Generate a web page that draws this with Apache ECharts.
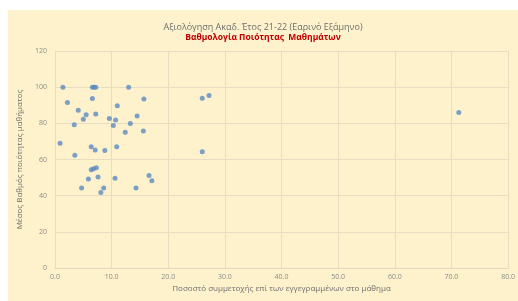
<!DOCTYPE html>
<html>
<head>
<meta charset="utf-8">
<script src="https://cdn.jsdelivr.net/npm/echarts@6/dist/echarts.min.js"></script>
<style>
  html, body { margin: 0; padding: 0; background: #ffffff; }
  #main { position: absolute; left: 8px; top: 10px; width: 510px; height: 291px; }
</style>
</head>
<body>
<div id="main"></div>
<script>
// participation % (x) and mean quality grade (y)
var participation = [
  1.4, 6.6, 6.9, 7.2, 13.0, 2.2, 6.6, 11.0, 15.7, 4.1,
  5.5, 5.0, 7.2, 9.6, 10.7, 14.5, 10.3, 13.3, 12.4, 15.6,
  3.4, 0.9, 6.4, 7.1, 8.8, 10.9, 3.5, 6.4, 6.8, 7.3,
  5.9, 7.6, 10.6, 16.6, 17.1, 4.7, 8.6, 8.1, 14.3,
  26.0, 27.2, 71.3, 26.0
];
var grade = [
  100, 100, 100, 100, 100, 91.5, 93.7, 89.7, 93.5, 87.3,
  84.7, 82.3, 85.2, 82.7, 81.8, 84, 78.8, 79.9, 75.1, 75.7,
  79.2, 69, 67, 65.2, 65, 67, 62.4, 54.3, 54.9, 55.4,
  49.2, 50.3, 49.7, 51.2, 48.2, 44.2, 44.2, 41.8, 44.2,
  93.9, 95.4, 86, 64.3
];

var titleMain = 'Αξιολόγηση Ακαδ. Έτος 21-22 (Εαρινό Εξάμηνο)';
var titleSub = 'Βαθμολογία Ποιότητας  Μαθημάτων';
var xName = 'Ποσοστό συμμετοχής επί των εγγεγραμμένων στο μάθημα';
var yName = 'Μέσος Βαθμός ποιότητας μαθήματος';

var chartDom = document.getElementById('main');
var myChart = echarts.init(chartDom);
var option;

var points = participation.map(function (x, i) {
  return [x, grade[i]];
});

var fontFam = '"Open Sans", "Liberation Sans", sans-serif';

option = {
  backgroundColor: '#FEF2CD',
  animation: false,
  title: {
    text: titleMain,
    subtext: titleSub,
    left: 'center',
    top: 8,
    itemGap: 1,
    textStyle: { fontFamily: fontFam, fontSize: 9, fontWeight: 'normal', color: '#6d6d6d' },
    subtextStyle: { fontFamily: fontFam, fontSize: 8.5, fontWeight: 'bold', color: '#C00000' }
  },
  grid: { left: 47, right: 5, top: 41, bottom: 33 },
  xAxis: {
    type: 'value',
    min: 0,
    max: 80,
    interval: 10,
    name: xName,
    nameLocation: 'middle',
    nameGap: 14,
    nameTextStyle: { fontFamily: fontFam, fontSize: 8, color: '#6d6d6d' },
    axisLine: { show: true, lineStyle: { color: '#E3D8BC' } },
    axisTick: { show: false },
    axisLabel: {
      fontFamily: fontFam, fontSize: 7, color: '#8a8a8a', margin: 5,
      formatter: function (v) { return v.toFixed(1); }
    },
    splitLine: { show: true, lineStyle: { color: '#E8DDC0', width: 1 } }
  },
  yAxis: {
    type: 'value',
    min: 0,
    max: 120,
    interval: 20,
    name: yName,
    nameLocation: 'middle',
    nameGap: 24,
    nameTextStyle: { fontFamily: fontFam, fontSize: 8, color: '#6d6d6d' },
    axisLine: { show: false },
    axisTick: { show: false },
    axisLabel: { fontFamily: fontFam, fontSize: 7, color: '#8a8a8a', margin: 8 },
    splitLine: { show: true, lineStyle: { color: '#E8DDC0', width: 1 } }
  },
  series: [
    {
      type: 'scatter',
      symbol: 'circle',
      symbolSize: 5,
      itemStyle: { color: '#5B8AC0' },
      data: points
    }
  ]
};

option && myChart.setOption(option);
</script>
</body>
</html>
